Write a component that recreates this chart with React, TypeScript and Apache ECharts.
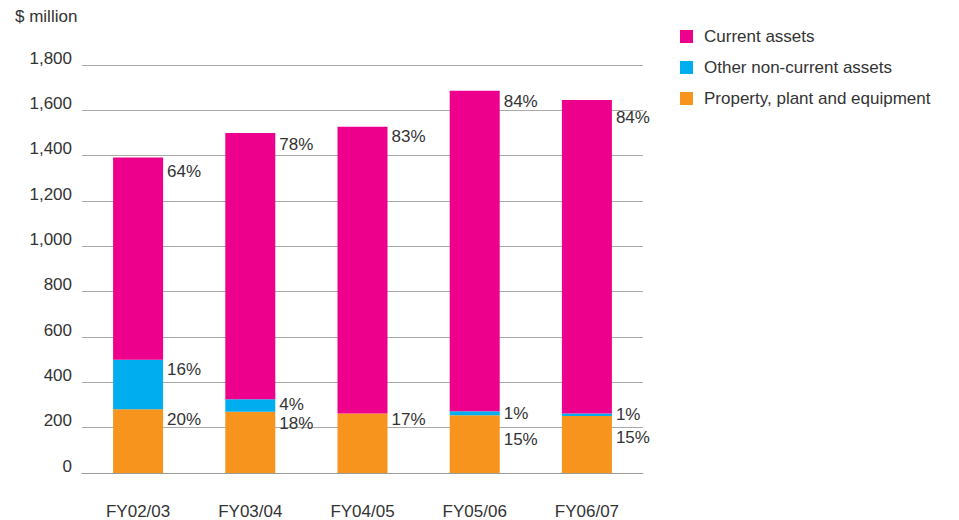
import React, { useEffect, useRef } from "react";
import * as echarts from "echarts";

const categories = ["FY02/03", "FY03/04", "FY04/05", "FY05/06", "FY06/07"];
const ppe = [281, 270, 263, 255, 252];
const otherNonCurrent = [219, 55, 0, 17, 11];
const currentAssets = [892, 1175, 1265, 1414, 1383];
const ppePct = ["20%", "18%", "17%", "15%", "15%"];
const otherPct = ["16%", "4%", "", "1%", "1%"];
const currentPct = ["64%", "78%", "83%", "84%", "84%"];
const yTicks = [0, 200, 400, 600, 800, 1000, 1200, 1400, 1600, 1800];

// label vertical nudges (px below segment top)
const ppeNudge = [10, 12, 6, 24, 22];
const otherNudge = [10, 5, 0, 2, 1];
const currentNudge = [14, 11, 10, 11, 18];

const FONT = "'Liberation Sans', Arial, Helvetica, sans-serif";
const FS = 17;

function buildData(values: number[], pcts: string[], nudges: number[]) {
  return values.map((v, i) => ({
    value: v,
    label: {
      show: v > 0 && pcts[i] !== "",
      formatter: pcts[i],
      offset: [4, nudges[i]],
    },
  }));
}

export default function App() {
  const ref = useRef<HTMLDivElement>(null);
  useEffect(() => {
    if (!ref.current) return;
    const chart = echarts.init(ref.current, undefined, { renderer: "svg" });
    const labelBase = {
      show: true,
      position: ["100%", 0],
      align: "left",
      verticalAlign: "middle",
      color: "#333",
      fontSize: FS,
      fontFamily: FONT,
    };
    chart.setOption({
      animation: false,
      textStyle: { fontFamily: FONT },
      grid: { left: 82, right: 316, top: 65, bottom: 45, containLabel: false },
      legend: {
        orient: "vertical",
        left: 680,
        top: 28,
        padding: 0,
        itemWidth: 13,
        itemHeight: 13,
        itemGap: 14,
        icon: "rect",
        data: ["Current assets", "Other non-current assets", "Property, plant and equipment"],
        textStyle: { fontSize: FS, color: "#333", fontFamily: FONT, padding: [0, 0, 0, 6] },
      },
      graphic: [
        {
          type: "text",
          left: 15,
          top: 8,
          style: { text: "$ million", fontSize: FS, fill: "#333", fontFamily: FONT },
        },
      ],
      xAxis: {
        type: "category",
        data: categories,
        axisTick: { show: false },
        axisLine: { show: true, lineStyle: { color: "#999", type: "dotted", width: 1 } },
        axisLabel: { margin: 30, fontSize: FS, color: "#333", fontFamily: FONT },
      },
      yAxis: {
        type: "value",
        min: yTicks[0],
        max: yTicks[yTicks.length - 1],
        interval: 200,
        axisLine: { show: false },
        axisTick: { show: false },
        splitLine: { lineStyle: { color: "#aaa", width: 1 } },
        axisLabel: {
          margin: 10,
          fontSize: FS,
          color: "#333",
          fontFamily: FONT,
          verticalAlign: "bottom",
          lineHeight: 14,
          formatter: (v: number) => v.toLocaleString("en-US"),
        },
      },
      series: [
        {
          name: "Property, plant and equipment",
          type: "bar",
          stack: "a",
          barWidth: 50,
          itemStyle: { color: "#F7941D" },
          label: labelBase,
          data: buildData(ppe, ppePct, ppeNudge),
        },
        {
          name: "Other non-current assets",
          type: "bar",
          stack: "a",
          barWidth: 50,
          itemStyle: { color: "#00AEEF" },
          label: labelBase,
          data: buildData(otherNonCurrent, otherPct, otherNudge),
        },
        {
          name: "Current assets",
          type: "bar",
          stack: "a",
          barWidth: 50,
          itemStyle: { color: "#EC008C" },
          label: labelBase,
          data: buildData(currentAssets, currentPct, currentNudge),
        },
      ],
    });
    return () => chart.dispose();
  }, []);
  return <div ref={ref} style={{ width: 959, height: 520, position: "absolute", left: 0, top: 0 }} />;
}
